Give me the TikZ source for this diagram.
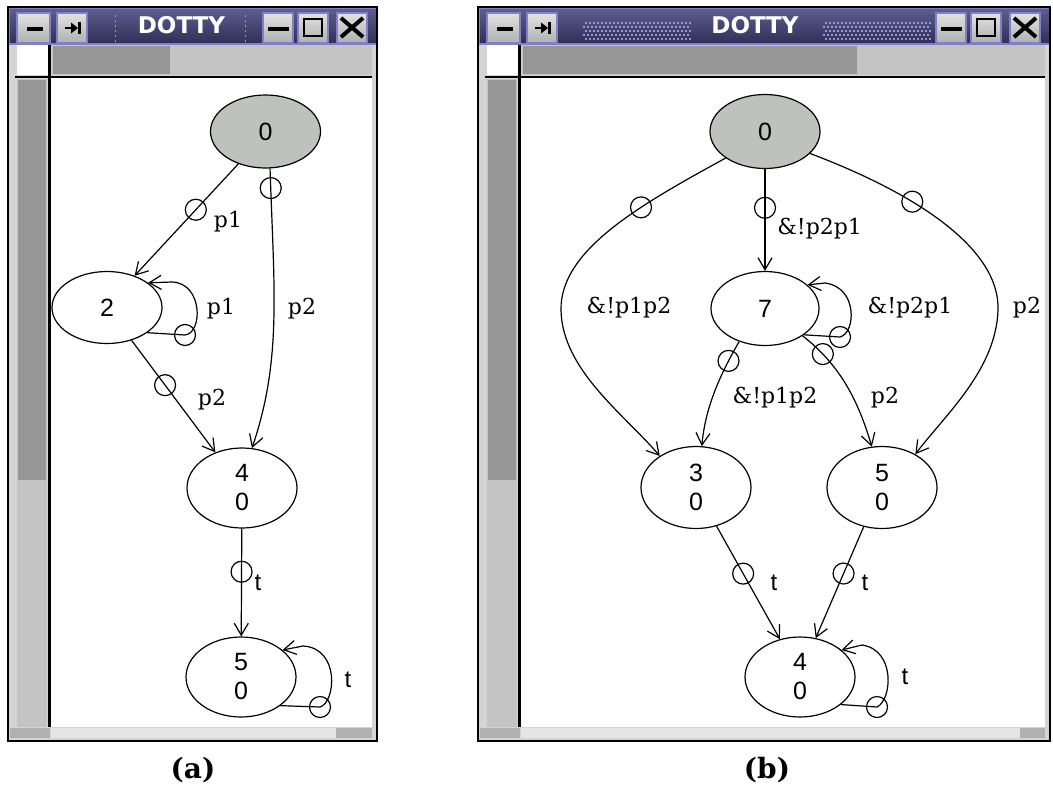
\documentclass[tikz,border=0pt]{standalone}
\usepackage{fontspec}
\setmainfont{DejaVu Serif}
\newfontfamily\nodefont{Liberation Sans}
\newfontfamily\barfont{DejaVu Sans}
\usetikzlibrary{shapes.geometric,arrows.meta}

\definecolor{startgray}{RGB}{190,194,190}
\definecolor{bartop}{RGB}{96,96,146}
\definecolor{barbot}{RGB}{46,46,88}
\definecolor{barline}{RGB}{128,128,196}
\definecolor{gripdot}{RGB}{150,150,210}
\definecolor{dither}{RGB}{150,150,150}
\definecolor{track}{RGB}{196,196,196}
\definecolor{winframe}{RGB}{212,212,212}
\definecolor{btnhi}{RGB}{226,226,226}
\definecolor{btnlo}{RGB}{176,176,176}

\tikzset{
  stnode/.style={ellipse, draw, line width=0.6pt, inner sep=0pt,
    minimum width=55pt, align=center,
    font=\nodefont\fontsize{12.5}{14.5}\selectfont},
  startnode/.style={stnode, fill=startgray},
  trans/.style={line width=0.6pt,
    -{Straight Barb[length=6pt,width=7pt,line width=0.6pt]}},
  tailmk/.style={circle, draw, line width=0.6pt, minimum size=10.5pt,
    inner sep=0pt},
  serlab/.style={inner sep=0pt, font=\fontsize{11}{13}\selectfont},
  sanlab/.style={inner sep=0pt, font=\nodefont\fontsize{12}{13}\selectfont},
  btn/.style={top color=btnhi, bottom color=btnlo, draw=barline, line width=1pt},
  caption/.style={inner sep=0pt, font=\bfseries\fontsize{14}{16}\selectfont}
}

% window chrome: #1 left edge, #2 right edge, #3 end of the horizontal thumb,
% #4 centre of the title, #5 start of the dark bottom-right block
\newcommand\dottywin[5]{%
  \fill[winframe] (#1,7) rectangle (#2,741);
  \fill[white] (#1+42,78) rectangle (#2-5,727);
  % title bar
  \shade[top color=bartop, bottom color=barbot] (#1,7) rectangle (#2,44);
  \draw[barline, line width=1pt] (#1+0.5,7.5) rectangle (#2-0.5,44);
  \node[text=white, inner sep=0pt,
    font=\barfont\bfseries\fontsize{11.5}{13}\selectfont] at (#4,25.5) {DOTTY};
  % left buttons
  \shadedraw[btn] (#1+9,13) rectangle (#1+42,43);
  \fill (#1+19,26.5) rectangle (#1+35,31);
  \shadedraw[btn] (#1+49,13) rectangle (#1+79,43);
  \draw[line width=1.4pt] (#1+57,28) -- (#1+65,28);
  \fill (#1+63,22.5) -- (#1+70,28) -- (#1+63,33.5) -- cycle;
  \fill (#1+70,22) rectangle (#1+73,34);
  % right buttons
  \shadedraw[btn] (#2-114,13) rectangle (#2-84,43);
  \fill (#2-109,26.5) rectangle (#2-88,31);
  \shadedraw[btn] (#2-79,13) rectangle (#2-49,43);
  \draw[line width=1.4pt] (#2-73,19) rectangle (#2-55,36);
  \shadedraw[btn] (#2-40,13) rectangle (#2-10,43);
  \draw[line width=2pt] (#2-36,18) -- (#2-14,37) (#2-36,37) -- (#2-14,18);
  % scroll bars
  \fill[white] (#1+9,45) rectangle (#1+40,75);
  \fill[track] (#1+44,45) rectangle (#2-5,75);
  \fill[dither] (#1+45,46) rectangle (#3,74);
  \fill[track] (#1+9,79) rectangle (#1+39,727);
  \fill[dither] (#1+10,80) rectangle (#1+38,480);
  \fill (#1+7,75.5) rectangle (#2-5,78);
  \fill (#1+40,45) rectangle (#1+43,727);
  % bottom bar
  \fill[white!90!black] (#1+43,728) rectangle (#5,738);
  \fill[btnlo] (#5,728) rectangle (#2-5,738);
  \fill[btnlo] (#1+2,728) rectangle (#1+42,738);
  % outline
  \draw[line width=1pt] (#1,7) rectangle (#2,741);
}

\begin{document}
\begin{tikzpicture}[x=0.5pt,y=-0.5pt]
\useasboundingbox (0,0) rectangle (1053,787);
\fill[white] (0,0) rectangle (1053,787);

% ---------------- window (a)
\dottywin{8}{377}{170}{181.5}{336}
\foreach \y in {15,20,25,30,35,40}{
  \fill[gripdot] (114.5,\y) rectangle (116,\y+1.5);
  \fill[gripdot] (244.5,\y) rectangle (246,\y+1.5);
}

\node[startnode, minimum height=36.5pt] (a0) at (265.5,131.5) {0};
\node[stnode, minimum height=36pt] (a2) at (107,307.5) {2};
\node[stnode, minimum height=40pt] (a4) at (242,488) {4\\0};
\node[stnode, minimum height=40pt] (a5) at (241,677) {5\\0};

\draw[trans] (a0.-130) -- node[tailmk, pos=0.41]{} (a2.49);
\node[serlab] (la02) at (228,222) {p1};
\draw[trans] (a0.-83) .. controls (274,290) and (282,360) ..
  node[tailmk, pos=0.055]{} (a4.76);
\node[serlab] (la04) at (302,309) {p2};
\draw[trans] (a2) -- node[tailmk, pos=0.4]{} (a4);
\node[serlab] (la24) at (212,400) {p2};
\draw[trans] (a2.-32) -- (185,335) node[tailmk]{}
  .. controls (203,333) and (203,283) .. (172,282) -- (a2.31);
\node[serlab] (la22) at (221,309) {p1};
\draw[trans] (a4) -- node[tailmk, pos=0.4]{} (a5);
\node[sanlab] (la45) at (258,583) {t};
\draw[trans] (a5.-36) -- (320,707) node[tailmk]{}
  .. controls (336,702) and (340,648) .. (303,646) -- (a5.33);
\node[sanlab] (la55) at (348,680) {t};

\node[caption] (capa) at (193,770) {(a)};

% ---------------- window (b)
\dottywin{478}{1050}{857}{755}{1020}
\foreach \y [count=\r] in {22,26,30,34,38}{
  \pgfmathsetmacro\off{mod(\r,2)*2}
  \foreach \x in {0,4,...,104}{
    \fill[gripdot] (583+\x+\off,\y) rectangle (584.5+\x+\off,\y+1.5);
    \fill[gripdot] (823+\x+\off,\y) rectangle (824.5+\x+\off,\y+1.5);
  }
}

\node[startnode, minimum height=37pt] (b0) at (765,131.5) {0};
\node[stnode, minimum height=37pt, minimum width=54pt] (b7) at (765,308.5) {7};
\node[stnode, minimum height=41pt] (b3) at (696,487.5) {3\\0};
\node[stnode, minimum height=41pt] (b5) at (882,487.5) {5\\0};
\node[stnode, minimum height=40pt] (b4) at (800,677) {4\\0};

\draw[trans] (b0) -- node[tailmk, pos=0.38]{} (b7);
\node[serlab, anchor=west] (lb07) at (777,229) {\&!p2p1};
\draw[trans] (b0.-146) .. controls (640,205) and (560,250) ..
  node[tailmk, pos=0.35]{} (561,310)
  .. controls (562,370) and (625,415) .. (b3.139);
\node[serlab] (lb03) at (629,308) {\&!p1p2};
\draw[trans] (b0.-26) .. controls (920,195) and (1000,250) ..
  node[tailmk, pos=0.35]{} (998,310)
  .. controls (996,370) and (945,415) .. (b5.45);
\node[serlab] (lb05) at (1027,308) {p2};
\draw[trans] (b7.-34) -- (840,337) node[tailmk]{}
  .. controls (856,333) and (858,287) .. (825,283) -- (b7.29);
\node[serlab] (lb77) at (910,308) {\&!p2p1};
\draw[trans] (b7.-128) .. controls (718,378) and (705,410) ..
  node[tailmk, pos=0.18]{} (b3.82);
\node[serlab] (lb73) at (775,398) {\&!p1p2};
\draw[trans] (b7.-36) .. controls (840,365) and (858,400) ..
  node[tailmk, pos=0.2]{} (b5.104);
\node[serlab] (lb75) at (885,398) {p2};
\draw[trans] (b3.-62) -- node[tailmk, pos=0.42]{} (b4.118);
\node[sanlab] (lb34) at (774,583) {t};
\draw[trans] (b5.-115) -- node[tailmk, pos=0.42]{} (b4.68);
\node[sanlab] (lb54) at (865,583) {t};
\draw[trans] (b4.-34) -- (877,707) node[tailmk]{}
  .. controls (892,700) and (896,650) .. (862,645) -- (b4.33);
\node[sanlab] (lb44) at (905,677) {t};

\node[caption] (capb) at (767,770) {(b)};
\end{tikzpicture}
\end{document}
